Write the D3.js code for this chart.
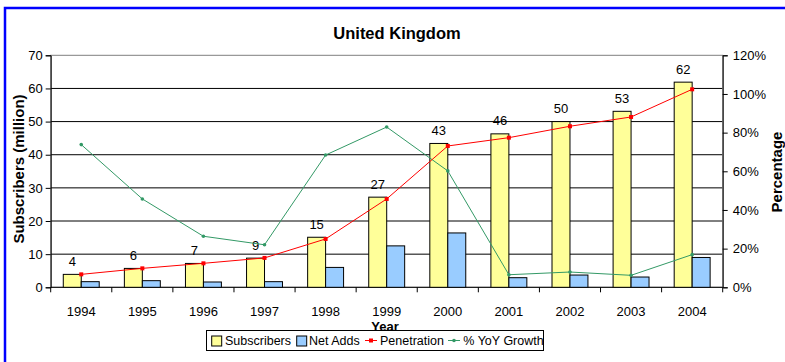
<!DOCTYPE html>
<html>
<head>
<meta charset="utf-8">
<script src="https://cdn.jsdelivr.net/npm/d3@7"></script>
<style>
  html, body { margin: 0; padding: 0; background: #fff; }
  svg { display: block; font-family: "Liberation Sans", Arial, sans-serif; }
</style>
</head>
<body>
<svg id="chart" width="785" height="362"></svg>
<script>
const years = ["1994","1995","1996","1997","1998","1999","2000","2001","2002","2003","2004"];
const subscribers = [3.9, 5.7, 7.2, 8.8, 15.1, 27.2, 43.4, 46.3, 50.0, 53.1, 61.9];
const subscriberLabels = ["4","6","7","9","15","27","43","46","50","53","62"];
const netAdds = [1.7, 2.0, 1.6, 1.7, 6.0, 12.5, 16.4, 2.9, 3.7, 3.1, 9.0];
const penetration = [0.067, 0.098, 0.124, 0.152, 0.250, 0.457, 0.731, 0.774, 0.833, 0.881, 1.024];
const yoyGrowth = [0.738, 0.457, 0.264, 0.220, 0.684, 0.829, 0.602, 0.065, 0.079, 0.062, 0.169];
const leftTicks = [0, 10, 20, 30, 40, 50, 60, 70];
const rightTicks = [0, 0.2, 0.4, 0.6, 0.8, 1.0, 1.2];
const legendItems = ["Subscribers", "Net Adds", "Penetration", "% YoY Growth"];

const svg = d3.select("#chart");
const L = 50.7, R = 722.7, T = 55.3, B = 287.3;

// outer blue frame
svg.append("rect").attr("x", 5).attr("y", 8).attr("width", 900).attr("height", 500)
  .attr("fill", "#fff").attr("stroke", "#0000ff").attr("stroke-width", 2.5);

const x0 = d3.scaleBand().domain(years).range([L, R]).padding(0);
const x1 = d3.scaleBand().domain(["s", "n"]).range([0, x0.bandwidth()]).paddingInner(0).paddingOuter(0.7);
const yL = d3.scaleLinear().domain([0, 70]).range([B, T]);
const yR = d3.scaleLinear().domain([0, 1.2]).range([B, T]);

// gridlines
svg.append("g").selectAll("line").data(leftTicks.filter(d => d > 0 && d < 70)).join("line")
  .attr("x1", L).attr("x2", R).attr("y1", d => yL(d)).attr("y2", d => yL(d))
  .attr("stroke", "#000").attr("stroke-width", 1);

// plot border
svg.append("rect").attr("x", L).attr("y", T).attr("width", R - L).attr("height", B - T)
  .attr("fill", "none").attr("stroke", "#808080").attr("stroke-width", 1);

// left axis
const axL = d3.axisLeft(yL).tickValues(leftTicks).tickSize(5).tickPadding(3);
const gL = svg.append("g").attr("transform", `translate(${L},0)`).call(axL);
gL.select(".domain").attr("stroke", "#000");
gL.selectAll(".tick line").attr("stroke", "#000");
gL.selectAll("text").attr("font-size", 13).attr("fill", "#000")
  .attr("font-family", "Liberation Sans, Arial, sans-serif");

// right axis
const axR = d3.axisRight(yR).tickValues(rightTicks).tickSize(5).tickPadding(5)
  .tickFormat(d => Math.round(d * 100) + "%");
const gR = svg.append("g").attr("transform", `translate(${R},0)`).call(axR);
gR.select(".domain").attr("stroke", "#000");
gR.selectAll(".tick line").attr("stroke", "#000");
gR.selectAll("text").attr("font-size", 13).attr("fill", "#000")
  .attr("font-family", "Liberation Sans, Arial, sans-serif");

// bottom axis: ticks at category boundaries
const gB = svg.append("g").attr("transform", `translate(0,${B})`);
gB.append("line").attr("x1", L).attr("x2", R).attr("stroke", "#000");
gB.selectAll("line.tk").data(years.concat(["end"])).join("line").attr("class", "tk")
  .attr("x1", (d, i) => i < years.length ? x0(d) : R)
  .attr("x2", (d, i) => i < years.length ? x0(d) : R)
  .attr("y1", 0).attr("y2", 5).attr("stroke", "#000");
gB.selectAll("text").data(years).join("text")
  .attr("x", d => x0(d) + x0.bandwidth() / 2).attr("y", 28.5)
  .attr("text-anchor", "middle").attr("font-size", 13).text(d => d);

// bars
const gBars = svg.append("g");
gBars.selectAll("rect.s").data(years).join("rect").attr("class", "s")
  .attr("x", d => x0(d) + x1("s")).attr("width", x1.bandwidth())
  .attr("y", (d, i) => yL(subscribers[i])).attr("height", (d, i) => B - yL(subscribers[i]))
  .attr("fill", "#ffff99").attr("stroke", "#000").attr("stroke-width", 1);
gBars.selectAll("rect.n").data(years).join("rect").attr("class", "n")
  .attr("x", d => x0(d) + x1("n")).attr("width", x1.bandwidth())
  .attr("y", (d, i) => yL(netAdds[i])).attr("height", (d, i) => B - yL(netAdds[i]))
  .attr("fill", "#99ccff").attr("stroke", "#000").attr("stroke-width", 1);

// data labels
svg.append("g").selectAll("text").data(years).join("text")
  .attr("x", d => x0(d) + x1("s") + x1.bandwidth() / 2)
  .attr("y", (d, i) => yL(subscribers[i]) - 8.5)
  .attr("text-anchor", "middle").attr("font-size", 13).text((d, i) => subscriberLabels[i]);

// lines
const cx = d => x0(d) + x0.bandwidth() / 2;
const lineGen = arr => d3.line().x(d => cx(d)).y((d, i) => yR(arr[i]));
svg.append("path").datum(years).attr("d", lineGen(yoyGrowth))
  .attr("fill", "none").attr("stroke", "#339966").attr("stroke-width", 1);
svg.append("g").selectAll("circle").data(years).join("circle")
  .attr("cx", cx).attr("cy", (d, i) => yR(yoyGrowth[i])).attr("r", 1.8).attr("fill", "#339966");
svg.append("path").datum(years).attr("d", lineGen(penetration))
  .attr("fill", "none").attr("stroke", "#ff0000").attr("stroke-width", 1);
svg.append("g").selectAll("rect").data(years).join("rect")
  .attr("x", d => cx(d) - 2).attr("y", (d, i) => yR(penetration[i]) - 2)
  .attr("width", 4).attr("height", 4).attr("fill", "#ff0000");

// title
svg.append("text").attr("x", 397).attr("y", 39).attr("text-anchor", "middle")
  .attr("font-size", 16.5).attr("font-weight", "bold").text("United Kingdom");

// axis titles
svg.append("text").attr("x", 385).attr("y", 330.5).attr("text-anchor", "middle")
  .attr("font-size", 13).attr("font-weight", "bold").text("Year");
svg.append("text").attr("transform", "translate(24,169) rotate(-90)").attr("text-anchor", "middle")
  .attr("font-size", 15).attr("font-weight", "bold").text("Subscribers (million)");
svg.append("text").attr("transform", "translate(782,172) rotate(-90)").attr("text-anchor", "middle")
  .attr("font-size", 15).attr("font-weight", "bold").text("Percentage");

// legend
const lg = svg.append("g");
lg.append("rect").attr("x", 206.5).attr("y", 330.5).attr("width", 337).attr("height", 20)
  .attr("fill", "#fff").attr("stroke", "#000").attr("stroke-width", 1);
const lgX = [211.7, 296.7, 365, 448];
const lgTX = [225, 309, 380, 463.3];
lg.append("rect").attr("x", lgX[0]).attr("y", 336).attr("width", 10).attr("height", 10)
  .attr("fill", "#ffff99").attr("stroke", "#000");
lg.append("rect").attr("x", lgX[1]).attr("y", 336).attr("width", 10).attr("height", 10)
  .attr("fill", "#99ccff").attr("stroke", "#000");
lg.append("line").attr("x1", lgX[2]).attr("x2", lgX[2] + 12).attr("y1", 340.5).attr("y2", 340.5)
  .attr("stroke", "#ff0000");
lg.append("rect").attr("x", lgX[2] + 4).attr("y", 338.5).attr("width", 4).attr("height", 4).attr("fill", "#ff0000");
lg.append("line").attr("x1", lgX[3]).attr("x2", lgX[3] + 12).attr("y1", 340.5).attr("y2", 340.5)
  .attr("stroke", "#339966");
lg.append("circle").attr("cx", lgX[3] + 6).attr("cy", 340.5).attr("r", 1.8).attr("fill", "#339966");
lg.selectAll("text").data(legendItems).join("text")
  .attr("x", (d, i) => lgTX[i]).attr("y", 345).attr("font-size", 12.5).text(d => d);
</script>
</body>
</html>
